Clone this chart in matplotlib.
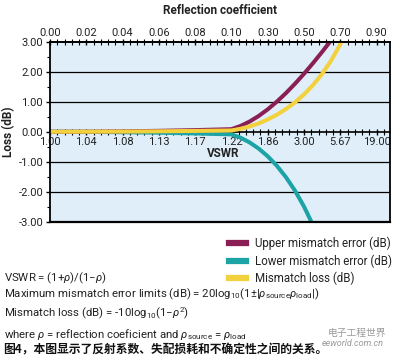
import numpy as np
import matplotlib
matplotlib.use("Agg")
import matplotlib.pyplot as plt
from matplotlib.lines import Line2D
from matplotlib.ticker import MultipleLocator

plt.rcParams['font.family'] = ['Roboto', 'Noto Sans CJK SC', 'DejaVu Sans']
plt.rcParams['mathtext.fontset'] = 'custom'
plt.rcParams['mathtext.rm'] = 'Roboto'
plt.rcParams['mathtext.it'] = 'Roboto:italic'

# 坐标轴刻度（等距类别轴）
rho_ticks = [0.00, 0.02, 0.04, 0.06, 0.08, 0.10, 0.30, 0.50, 0.70, 0.90]
rho_labels = ['0.00', '0.02', '0.04', '0.06', '0.08', '0.10', '0.30', '0.50', '0.70', '0.90']
vswr_labels = ['1.00', '1.04', '1.08', '1.13', '1.17', '1.22', '1.86', '3.00', '5.67', '19.00']

# 曲线数据
rho = [0.00, 0.02, 0.04, 0.06, 0.08, 0.10, 0.15, 0.20, 0.25, 0.30, 0.35,
       0.40, 0.45, 0.50, 0.55, 0.60, 0.65, 0.70, 0.72]
upper_err = [0.0, 0.003, 0.014, 0.031, 0.055, 0.086, 0.193, 0.341, 0.527, 0.749, 1.004,
             1.289, 1.602, 1.938, 2.296, 2.671, 3.061, 3.464, 3.62]
lower_err = [0.0, -0.003, -0.014, -0.031, -0.056, -0.087, -0.198, -0.355, -0.561, -0.819, -1.135,
             -1.514, -1.965, -2.499, -3.129, -3.876, -4.77, -5.85, -6.35]
mismatch_loss = [0.0, 0.002, 0.007, 0.016, 0.028, 0.044, 0.099, 0.177, 0.280, 0.410, 0.568,
                 0.757, 0.983, 1.249, 1.564, 1.938, 2.385, 2.924, 3.173]

c_upper = '#8a1f55'
c_lower = '#1ba3a6'
c_loss = '#f3d13c'

fig = plt.figure(figsize=(4.0, 3.62), dpi=100)
ax = fig.add_axes([0.125, 0.388, 0.85, 0.496])
ax.set_facecolor('#dfeef8')

# 把反射系数映射到等距类别位置
idx = np.arange(len(rho_ticks))
x = np.interp(rho, rho_ticks, idx)

ax.plot(x, lower_err, color=c_lower, lw=2.9, solid_capstyle='butt')
ax.plot(x, upper_err, color=c_upper, lw=2.9, solid_capstyle='butt')
ax.plot(x, mismatch_loss, color=c_loss, lw=2.9, solid_capstyle='butt')

ax.set_xlim(0, 9.37)
ax.set_ylim(-3, 3)

# 网格线
for yv in [-2, -1, 1, 2]:
    ax.axhline(yv, color='black', lw=0.9, zorder=1)
ax.axhline(-3, color='black', lw=1.6, zorder=3, clip_on=False)

for s in ['left', 'right', 'top']:
    ax.spines[s].set_linewidth(1.3)
ax.spines['bottom'].set_position(('data', 0))
ax.spines['bottom'].set_linewidth(1.2)
ax.spines['bottom'].set_zorder(0.5)

# VSWR 轴（零线）
ax.set_xticks(idx)
ax.set_xticklabels(vswr_labels, fontsize=8, color='#222222')
ax.xaxis.set_minor_locator(MultipleLocator(0.2))
ax.tick_params(axis='x', which='major', direction='inout', length=4, width=1, pad=1.5)
ax.tick_params(axis='x', which='minor', direction='inout', length=4, width=0.8)

ax.set_yticks([-3, -2, -1, 0, 1, 2, 3])
ax.set_yticklabels(['-3.00', '-2.00', '-1.00', '0.00', '1.00', '2.00', '3.00'],
                   fontsize=8, color='#222222')
ax.yaxis.set_minor_locator(MultipleLocator(0.5))
ax.tick_params(axis='y', which='major', direction='out', length=3, width=1, pad=2)
ax.tick_params(axis='y', which='minor', direction='out', length=2.5, width=0.8)
ax.set_ylabel('Loss (dB)', fontsize=8.5, fontweight='bold', color='#222222', labelpad=2)

ax.text(4.77, -0.72, 'VSWR', fontsize=8.5, fontweight='bold', color='#222222',
        ha='center', va='center')

# 反射系数轴（顶部）
top = ax.secondary_xaxis('top')
top.set_xticks(idx)
top.set_xticklabels(rho_labels, fontsize=8, color='#222222')
top.xaxis.set_minor_locator(MultipleLocator(0.2))
top.tick_params(axis='x', which='major', direction='inout', length=4, width=1, pad=1)
top.tick_params(axis='x', which='minor', direction='inout', length=4, width=0.8)
top.spines['top'].set_linewidth(1.3)
top.set_xlabel('Reflection coefficient', fontsize=8.5, fontweight='bold',
               color='#222222', labelpad=10)

# 图例
handles = [Line2D([], [], color=c_upper, lw=4.5),
           Line2D([], [], color=c_lower, lw=4.5),
           Line2D([], [], color=c_loss, lw=4.5)]
fig.legend(handles, ['Upper mismatch error (dB)', 'Lower mismatch error (dB)',
                     'Mismatch loss (dB)'],
           loc='upper left', bbox_to_anchor=(0.573, 0.346), frameon=False,
           fontsize=8.3, handlelength=1.5, handletextpad=0.7, labelspacing=0.35,
           borderpad=0, borderaxespad=0, labelcolor='#222222')

# 公式说明
txt = dict(fontsize=8.2, color='#222222', ha='left', va='center')
fig.text(0.01, 1 - 278 / 362, r'VSWR = (1+$\rho$)/(1−$\rho$)', **txt)
fig.text(0.01, 1 - 294.5 / 362,
         r'Maximum mismatch error limits (dB) = 20log$_{10}$(1±|$\rho_{\mathrm{source}}\rho_{\mathrm{load}}$|)',
         **txt)
fig.text(0.01, 1 - 313.5 / 362, r'Mismatch loss (dB) = -10log$_{10}$(1−$\rho^{2}$)', **txt)
fig.text(0.01, 1 - 334.5 / 362,
         r'where $\rho$ = reflection coeficient and $\rho_{\mathrm{source}}$ = $\rho_{\mathrm{load}}$',
         **txt)
fig.text(0.008, 1 - 350 / 362, '图4，本图显示了反射系数、失配损耗和不确定性之间的关系。',
         fontsize=8.5, fontweight='bold', color='#111111', ha='left', va='center',
         family=['Noto Sans CJK SC', 'DejaVu Sans'])

# 水印文字
fig.text(0.82, 1 - 333 / 362, '电子工程世界', fontsize=7, color='#9a9a9a',
         ha='left', va='center', family=['Noto Sans CJK SC', 'DejaVu Sans'])
fig.text(0.805, 1 - 344 / 362, 'eeworld.com.cn', fontsize=6.5, color='#9a9a9a',
         style='italic', ha='left', va='center')

fig.savefig('out.png', dpi=100, facecolor='white')
